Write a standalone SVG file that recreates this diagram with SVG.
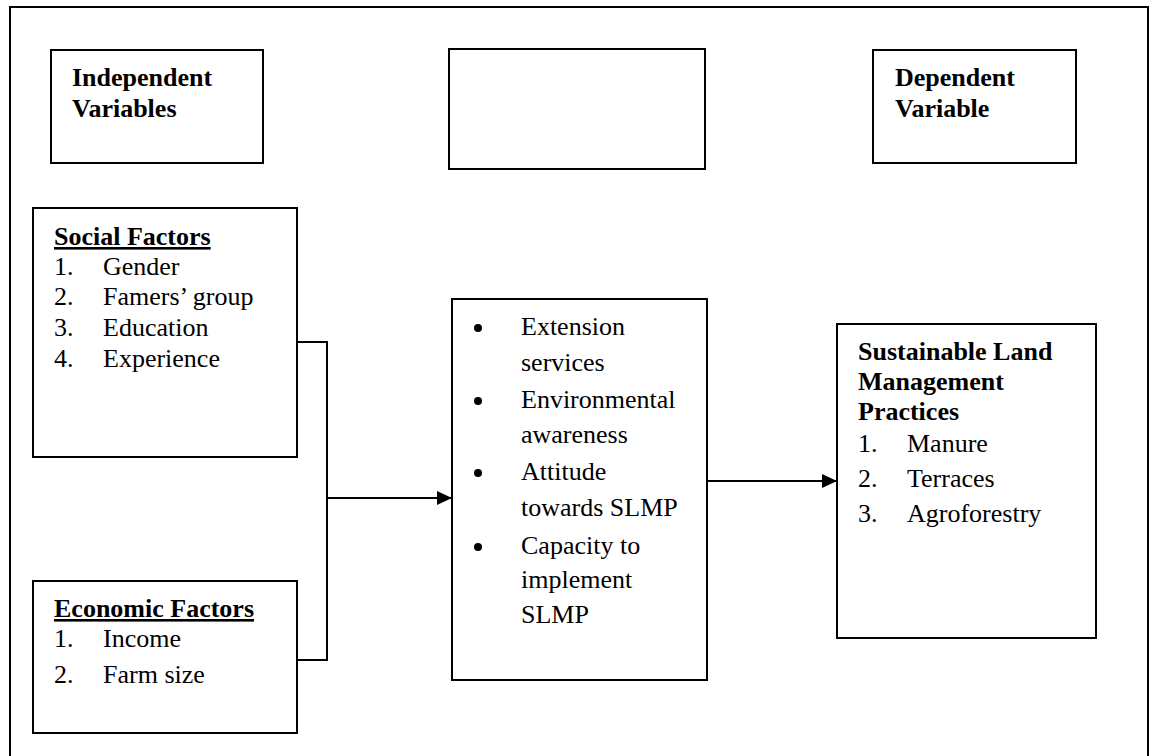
<svg xmlns="http://www.w3.org/2000/svg" width="1155" height="756" viewBox="0 0 1155 756">
  <style>
    .box { fill: #ffffff; stroke: #000000; stroke-width: 2; }
    .frame { fill: none; stroke: #000000; stroke-width: 2; }
    .t { font-family: "Liberation Serif", "Times New Roman", serif; font-size: 26px; fill: #000000; }
    .b { font-weight: bold; }
    .u { text-decoration: underline; }
    .conn { fill: none; stroke: #000000; stroke-width: 2; }
  </style>
  <defs>
    <marker id="arrow" markerWidth="15" markerHeight="14" refX="15" refY="7" orient="auto" markerUnits="userSpaceOnUse">
      <path d="M0,0 L15,7 L0,14 Z" fill="#000000"/>
    </marker>
  </defs>
  <rect width="1155" height="756" fill="#ffffff"/>
  <path class="frame" d="M10,770 L10,7 L1148,7 L1148,770"/>

  <g id="independent-label">
    <rect class="box" x="51" y="50" width="212" height="113"/>
    <text class="t b" x="72" y="86">Independent</text>
    <text class="t b" x="72" y="117">Variables</text>
  </g>

  <g id="empty-box">
    <rect class="box" x="449" y="49" width="256" height="120"/>
  </g>

  <g id="dependent-label">
    <rect class="box" x="873" y="50" width="203" height="113"/>
    <text class="t b" x="895" y="86">Dependent</text>
    <text class="t b" x="895" y="117">Variable</text>
  </g>

  <g id="social-factors">
    <rect class="box" x="33" y="208" width="264" height="249"/>
    <text class="t b u" x="54" y="245">Social Factors</text>
    <text class="t" x="54" y="275">1.</text><text class="t" x="103" y="275">Gender</text>
    <text class="t" x="54" y="305">2.</text><text class="t" x="103" y="305">Famers’ group</text>
    <text class="t" x="54" y="336">3.</text><text class="t" x="103" y="336">Education</text>
    <text class="t" x="54" y="367">4.</text><text class="t" x="103" y="367">Experience</text>
  </g>

  <g id="economic-factors">
    <rect class="box" x="33" y="581" width="264" height="152"/>
    <text class="t b u" x="54" y="617">Economic Factors</text>
    <text class="t" x="54" y="647">1.</text><text class="t" x="103" y="647">Income</text>
    <text class="t" x="54" y="683">2.</text><text class="t" x="103" y="683">Farm size</text>
  </g>

  <g id="intervening">
    <rect class="box" x="452" y="299" width="255" height="381"/>
    <circle cx="478" cy="328" r="4"/>
    <text class="t" x="521" y="335">Extension</text>
    <text class="t" x="521" y="371">services</text>
    <circle cx="478" cy="401" r="4"/>
    <text class="t" x="521" y="408">Environmental</text>
    <text class="t" x="521" y="443">awareness</text>
    <circle cx="478" cy="473" r="4"/>
    <text class="t" x="521" y="480">Attitude</text>
    <text class="t" x="521" y="516">towards SLMP</text>
    <circle cx="478" cy="547" r="4"/>
    <text class="t" x="521" y="554">Capacity to</text>
    <text class="t" x="521" y="588">implement</text>
    <text class="t" x="521" y="623">SLMP</text>
  </g>

  <g id="slmp">
    <rect class="box" x="837" y="324" width="259" height="314"/>
    <text class="t b" x="858" y="360">Sustainable Land</text>
    <text class="t b" x="858" y="390">Management</text>
    <text class="t b" x="858" y="420">Practices</text>
    <text class="t" x="858" y="452">1.</text><text class="t" x="907" y="452">Manure</text>
    <text class="t" x="858" y="487">2.</text><text class="t" x="907" y="487">Terraces</text>
    <text class="t" x="858" y="522">3.</text><text class="t" x="907" y="522">Agroforestry</text>
  </g>

  <g id="connectors">
    <path class="conn" d="M297,342 L327,342 L327,660 L297,660"/>
    <path class="conn" d="M327,498 L452,498" marker-end="url(#arrow)"/>
    <path class="conn" d="M707,481 L837,481" marker-end="url(#arrow)"/>
  </g>
</svg>
